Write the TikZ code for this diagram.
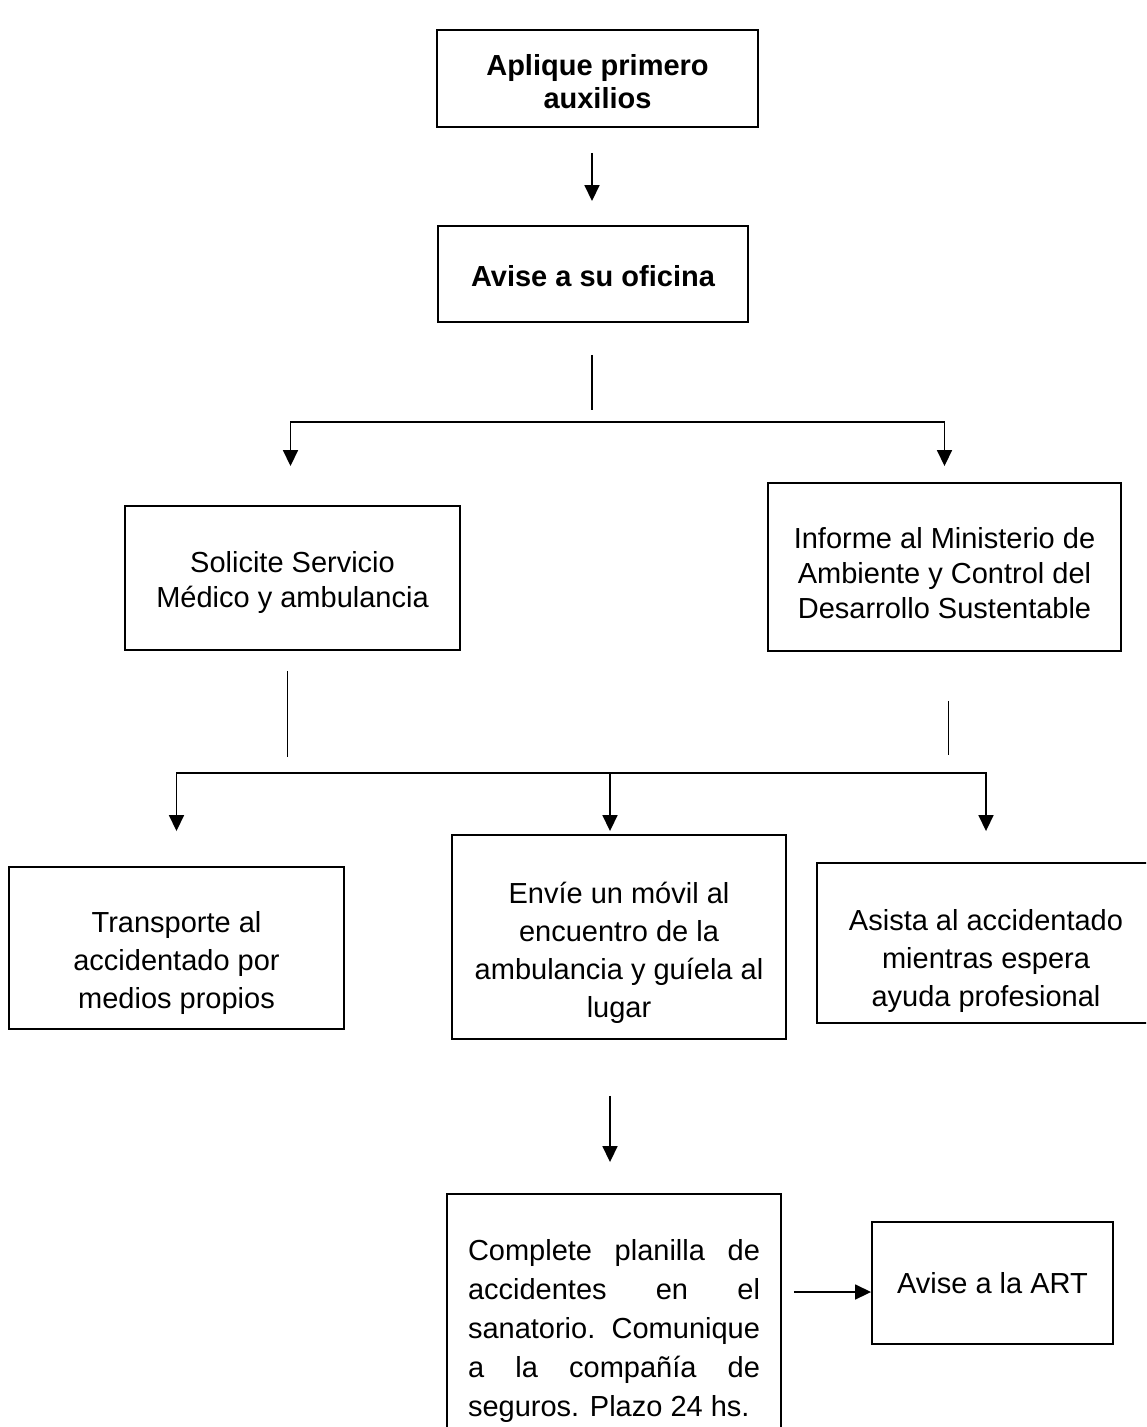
\documentclass[tikz,border=0pt]{standalone}
\usepackage{fontspec}
\setmainfont{Liberation Sans}
\usetikzlibrary{arrows.meta}
\newcommand{\bajar}[1]{\rule{0pt}{#1}}

\begin{document}
\begin{tikzpicture}[x=1pt,y=-1pt,
  caja/.style={draw, line width=1.9pt, align=center, font=\fontsize{29}{38}\selectfont},
  titulo/.style={font=\bfseries\fontsize{29}{33}\selectfont},
  flecha/.style={line width=1.7pt, -{Triangle[length=16pt,width=15pt]}},
  linea/.style={line width=1.7pt}]
\useasboundingbox (0,0) rectangle (1146,1427);
\clip (0,0) rectangle (1146,1427);
% cajas
\node[caja, titulo, minimum width=321pt, minimum height=97pt] (auxilios) at (597.5,78.5) {\bajar{27pt}Aplique primero\\auxilios};
\node[caja, titulo, minimum width=310pt, minimum height=96pt] (oficina) at (593,274) {\bajar{25pt}Avise a su oficina};
\node[caja, minimum width=335pt, minimum height=144pt, font=\fontsize{29}{35}\selectfont] (medico) at (292.5,578) {\bajar{31pt}Solicite Servicio\\Médico y ambulancia};
\node[caja, minimum width=353pt, minimum height=168pt, font=\fontsize{29}{35}\selectfont] (ministerio) at (944.5,567) {\bajar{33pt}Informe al Ministerio de\\Ambiente y Control del\\Desarrollo Sustentable};
\node[caja, minimum width=335pt, minimum height=162pt] (propios) at (176.5,948) {\bajar{51pt}Transporte al\\accidentado por\\medios propios};
\node[caja, minimum width=334pt, minimum height=204pt] (movil) at (619,937) {\bajar{52pt}Envíe un móvil al\\encuentro de la\\ambulancia y guíela al\\lugar};
\node[caja, minimum width=338pt, minimum height=160pt] (espera) at (986,943) {\bajar{57pt}Asista al accidentado\\mientras espera\\ayuda profesional};
\node[caja, minimum width=334pt, minimum height=266pt, align=left, font=\fontsize{29}{39}\selectfont] (planilla) at (614,1327) {\bajar{28pt}\makebox[292pt][s]{Complete planilla de}\\\makebox[292pt][s]{accidentes en el}\\\makebox[292pt][s]{sanatorio. Comunique}\\\makebox[292pt][s]{a la compañía de}\\seguros. Plazo 24 hs.};
\node[caja, minimum width=241pt, minimum height=122pt] (art) at (992.5,1283) {Avise a la ART};
% puntos de reparto
\coordinate (rama1) at (592,422);
\coordinate (rama2) at (610,773);
\coordinate (tallo1) at ([xshift=-5pt]medico.south);
\coordinate (tallo2) at ([xshift=4pt]ministerio.south);
% conexiones
\draw[flecha, shorten <=25pt, shorten >=24pt] (auxilios.south -| rama1) -- (oficina.north -| rama1);
\draw[linea, shorten <=32pt, shorten >=12pt] (oficina.south -| rama1) -- (rama1);
\draw[flecha, shorten >=39pt] (rama1) -| ([xshift=-2pt]medico.north);
\draw[flecha, shorten >=16pt] (rama1) -| (ministerio.north);
\draw[linea, shorten <=20pt, shorten >=16pt] (tallo1) -- (tallo1 |- rama2);
\draw[linea, shorten <=49pt, shorten >=18pt] (tallo2) -- (tallo2 |- rama2);
\foreach \n/\s in {propios/35,espera/31}
  \draw[flecha, shorten >=\s pt] (rama2) -| (\n.north);
\draw[flecha, shorten >=3pt] (rama2) -- (rama2 |- movil.north);
\draw[flecha, shorten <=56pt, shorten >=31pt] (rama2 |- movil.south) -- (rama2 |- planilla.north);
\draw[flecha, shorten <=12pt] ([yshift=-9pt]planilla.east |- art.west) -- ([yshift=-9pt]art.west);
\end{tikzpicture}
\end{document}
